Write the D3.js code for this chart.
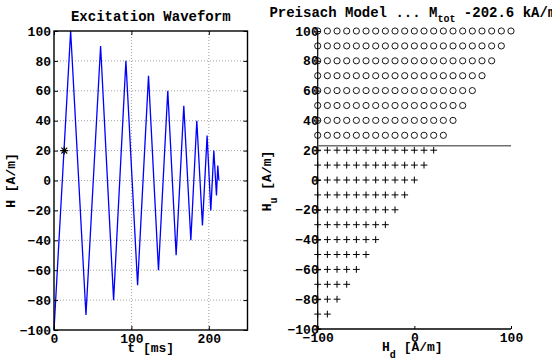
<!DOCTYPE html>
<html><head><meta charset="utf-8">
<script src="https://cdn.jsdelivr.net/npm/d3@7"></script>
<style>
html,body{margin:0;padding:0;background:#fff;}
svg{display:block;font-family:"Liberation Mono","DejaVu Sans Mono",monospace;font-weight:bold;}
</style></head><body>
<svg id="chart" width="552" height="361"></svg>
<script>
// Excitation waveform: turning points of the applied field H(t)
const waveT = [0, 21.5, 41.3, 60.2, 77, 92.9, 108, 122.1, 135, 147, 157.8, 167.7, 176.8, 184.5, 191.8, 197.8, 202.6, 206.5, 209.9, 211.6, 213];
const waveH = [-100, 100, -90, 90, -80, 80, -70, 70, -60, 60, -50, 50, -40, 40, -30, 30, -20, 20, -10, 10, 0];
// current operating point
const markerT = [13.3];
const markerH = [20];
const waveXTicks = [0, 100, 200];
const waveYTicks = [-100, -80, -60, -40, -20, 0, 20, 40, 60, 80, 100];

// Preisach plane: up-switching (Hu) rows and down-switching (Hd) columns
const huLevels = [-100, -90, -80, -70, -60, -50, -40, -30, -20, -10, 0, 10, 20, 30, 40, 50, 60, 70, 80, 90, 100];
const hdLevels = [-100, -90, -80, -70, -60, -50, -40, -30, -20, -10, 0, 10, 20, 30, 40, 50, 60, 70, 80, 90, 100];
// hysteron state per Hu row: +1 drawn as '+', -1 drawn as 'o'
const rowState = [1, 1, 1, 1, 1, 1, 1, 1, 1, 1, 1, 1, 1, -1, -1, -1, -1, -1, -1, -1, -1];
const boundaryHu = [23];
const preisachXTicks = [-100, 0, 100];
const preisachYTicks = [-100, -80, -60, -40, -20, 0, 20, 40, 60, 80, 100];
const mTot = -202.6;

const svg = d3.select("#chart");
const FS = 13, FT = 14, FSUB = 10;

// ---------- left panel: excitation waveform ----------
const L = {x0: 54, x1: 247.5, y0: 31, y1: 330};
const xW = d3.scaleLinear().domain([0, 250]).range([L.x0, L.x1]);
const yW = d3.scaleLinear().domain([-100, 100]).range([L.y1, L.y0]);

const gL = svg.append("g");
// grid
gL.append("g").selectAll("line.gy").data(waveYTicks.filter(v => v > -100 && v < 100)).join("line")
  .attr("x1", L.x0).attr("x2", L.x1).attr("y1", d => yW(d)).attr("y2", d => yW(d))
  .attr("stroke", "#a0a0a0").attr("stroke-width", 1).attr("stroke-dasharray", "1,2");
gL.append("g").selectAll("line.gx").data(waveXTicks.filter(v => v > 0)).join("line")
  .attr("y1", L.y0).attr("y2", L.y1).attr("x1", d => xW(d)).attr("x2", d => xW(d))
  .attr("stroke", "#a0a0a0").attr("stroke-width", 1).attr("stroke-dasharray", "1,2");

// waveform
const wave = waveT.map((t, i) => [t, waveH[i]]);
gL.append("path").datum(wave)
  .attr("d", d3.line().x(d => xW(d[0])).y(d => yW(d[1])))
  .attr("fill", "none").attr("stroke", "#0000ff").attr("stroke-width", 1.3);

// asterisk marker
const ast = "M-4,0H4M0,-4V4M-2.9,-2.9L2.9,2.9M-2.9,2.9L2.9,-2.9";
gL.append("g").selectAll("path").data(markerT.map((t, i) => [t, markerH[i]])).join("path")
  .attr("transform", d => `translate(${xW(d[0])},${yW(d[1])})`)
  .attr("d", ast).attr("stroke", "#000").attr("stroke-width", 1.1).attr("fill", "none");

// axes (inward ticks on all four sides)
function styleAxis(g) {
  g.select(".domain").remove();
  g.selectAll(".tick line").attr("stroke", "#000").attr("stroke-width", 1);
  g.selectAll(".tick text").attr("font-size", FS).attr("font-weight", "bold")
    .attr("font-family", "Liberation Mono, DejaVu Sans Mono, monospace").attr("fill", "#000");
}
gL.append("g").attr("transform", `translate(0,${L.y1})`)
  .call(d3.axisBottom(xW).tickValues(waveXTicks).tickSizeInner(-4).tickSizeOuter(0).tickPadding(4))
  .call(styleAxis);
gL.append("g").attr("transform", `translate(0,${L.y0})`)
  .call(d3.axisTop(xW).tickValues(waveXTicks).tickSizeInner(-4).tickSizeOuter(0).tickFormat(""))
  .call(styleAxis);
gL.append("g").attr("transform", `translate(${L.x0},0)`)
  .call(d3.axisLeft(yW).tickValues(waveYTicks).tickSizeInner(-4).tickSizeOuter(0).tickPadding(3))
  .call(styleAxis);
gL.append("g").attr("transform", `translate(${L.x1},0)`)
  .call(d3.axisRight(yW).tickValues(waveYTicks).tickSizeInner(-4).tickSizeOuter(0).tickFormat(""))
  .call(styleAxis);
gL.append("rect").attr("x", L.x0).attr("y", L.y0).attr("width", L.x1 - L.x0).attr("height", L.y1 - L.y0)
  .attr("fill", "none").attr("stroke", "#000").attr("stroke-width", 1.4);

gL.append("text").attr("x", (L.x0 + L.x1) / 2).attr("y", 20.5).attr("text-anchor", "middle")
  .attr("font-size", FT).text("Excitation Waveform");
gL.append("text").attr("x", (L.x0 + L.x1) / 2).attr("y", 352).attr("text-anchor", "middle")
  .attr("font-size", FS).text("t [ms]");
gL.append("text").attr("transform", `translate(15,${(L.y0 + L.y1) / 2}) rotate(-90)`)
  .attr("text-anchor", "middle").attr("font-size", FS).text("H [A/m]");

// ---------- right panel: Preisach plane ----------
const R = {x0: 317.7, x1: 511, y0: 31, y1: 329};
const xP = d3.scaleLinear().domain([-100, 100]).range([R.x0, R.x1]);
const yP = d3.scaleLinear().domain([-100, 100]).range([R.y1, R.y0]);
const gR = svg.append("g");

const cells = [];
huLevels.forEach((hu, i) => {
  hdLevels.forEach(hd => { if (hd <= hu) cells.push({hd, hu, s: rowState[i]}); });
});

gR.append("g").attr("transform", `translate(0,${R.y1})`)
  .call(d3.axisBottom(xP).tickValues(preisachXTicks).tickSizeInner(-3).tickSizeOuter(0).tickPadding(4))
  .call(styleAxis);
gR.append("g").attr("transform", `translate(${R.x0},0)`)
  .call(d3.axisLeft(yP).tickValues(preisachYTicks).tickSizeInner(-3).tickSizeOuter(0).tickPadding(-1))
  .call(styleAxis);
gR.append("line").attr("x1", R.x0).attr("x2", R.x0).attr("y1", R.y0).attr("y2", R.y1)
  .attr("stroke", "#000").attr("stroke-width", 1.2);
gR.append("line").attr("x1", R.x0).attr("x2", R.x1).attr("y1", R.y1).attr("y2", R.y1)
  .attr("stroke", "#000").attr("stroke-width", 1.3);

const plus = "M-3.4,0H3.4M0,-3.4V3.4";
gR.append("g").selectAll("path").data(cells.filter(c => c.s > 0)).join("path")
  .attr("transform", d => `translate(${xP(d.hd)},${yP(d.hu)})`)
  .attr("d", plus).attr("stroke", "#000").attr("stroke-width", 1).attr("fill", "none");
gR.append("g").selectAll("circle").data(cells.filter(c => c.s < 0)).join("circle")
  .attr("cx", d => xP(d.hd)).attr("cy", d => yP(d.hu)).attr("r", 3.1)
  .attr("stroke", "#000").attr("stroke-width", 0.9).attr("fill", "none");

// current switching boundary
gR.append("g").selectAll("line.b").data(boundaryHu).join("line")
  .attr("x1", xP(-100)).attr("x2", xP(100)).attr("y1", d => yP(d)).attr("y2", d => yP(d))
  .attr("stroke", "#707070").attr("stroke-width", 1.4);

const t2 = gR.append("text").attr("x", (R.x0 + R.x1) / 2 - 1.5).attr("y", 17).attr("text-anchor", "middle")
  .attr("font-size", FT);
t2.append("tspan").text("Preisach Model ... M");
t2.append("tspan").attr("font-size", FSUB).attr("dy", 5).text("tot");
t2.append("tspan").attr("dy", -5).text(` ${mTot.toFixed(1)} kA/m`);

const xl = gR.append("text").attr("x", (R.x0 + R.x1) / 2 - 2).attr("y", 351).attr("text-anchor", "middle")
  .attr("font-size", FS);
xl.append("tspan").text("H");
xl.append("tspan").attr("font-size", FSUB).attr("dy", 7).text("d");
xl.append("tspan").attr("dy", -7).text(" [A/m]");

const yl = gR.append("text").attr("transform", `translate(271,${(R.y0 + R.y1) / 2 + 1}) rotate(-90)`)
  .attr("text-anchor", "middle").attr("font-size", FS);
yl.append("tspan").text("H");
yl.append("tspan").attr("font-size", FSUB).attr("dy", 6).text("u");
yl.append("tspan").attr("dy", -6).text(" [A/m]");
</script>
</body></html>
